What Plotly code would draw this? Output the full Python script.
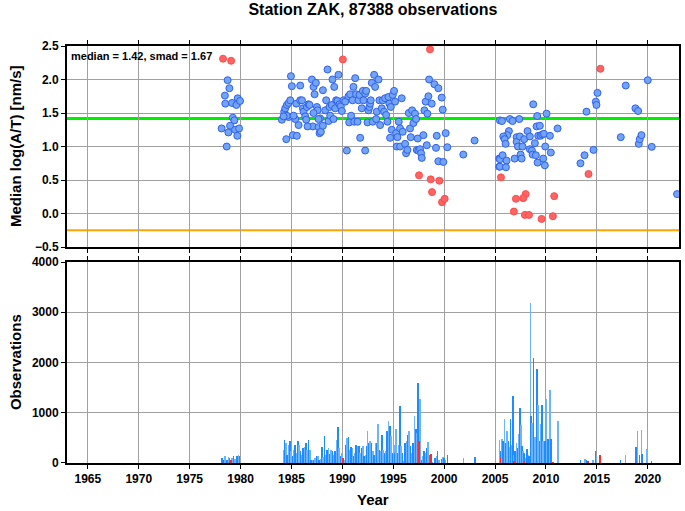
import plotly.graph_objects as go

# ---------------- data ----------------
title_text = "Station ZAK, 87388 observations"
median_val = 1.42
smad_val = 1.67
lower_line = -0.25

blue_years = [1978.73, 1978.90, 1978.46, 1978.50, 1979.16, 1979.59, 1979.72, 1979.95, 1979.24, 1979.39,
              1978.97, 1978.14, 1978.80, 1979.46, 1979.85, 1979.68, 1978.64,
              1984.06, 1984.29, 1984.39, 1984.55, 1984.72, 1984.88, 1984.95, 1985.04, 1984.49, 1985.14,
              1985.53, 1985.47, 1985.70, 1985.86, 1985.37, 1984.72, 1984.55, 1984.23, 1985.21, 1985.86,
              1986.03, 1986.12, 1986.19, 1986.35, 1986.45, 1986.52, 1986.68, 1986.78, 1987.01, 1987.17,
              1987.27, 1987.40, 1987.50, 1987.56, 1987.17, 1987.10, 1986.58, 1987.66, 1987.76, 1987.89,
              1988.09, 1988.09, 1987.82, 1987.66, 1988.31, 1988.41, 1988.54, 1988.64, 1988.74, 1988.80,
              1988.97, 1989.03, 1989.13, 1989.20, 1989.30, 1989.39, 1989.52, 1989.62, 1989.72, 1989.85,
              1989.95, 1990.11, 1990.28, 1990.44, 1990.60, 1990.67, 1990.77, 1990.86, 1991.00, 1991.09,
              1991.16, 1991.26, 1991.35, 1991.49, 1991.58, 1991.68, 1991.75, 1991.91, 1992.01, 1992.07,
              1992.24, 1992.24, 1992.34, 1992.47, 1992.56, 1992.66, 1992.73, 1992.79, 1992.89, 1992.99,
              1993.12, 1993.22, 1993.32, 1993.38, 1993.55, 1993.64, 1993.71, 1993.87, 1993.97, 1994.10,
              1994.20, 1994.30, 1994.43, 1994.53, 1994.62, 1994.69, 1994.76, 1994.85, 1994.95, 1995.08,
              1995.18, 1995.28, 1995.34, 1995.41, 1995.54, 1995.67, 1995.67, 1995.83, 1995.93, 1996.16,
              1996.26, 1996.39, 1996.52, 1996.65, 1996.72, 1996.85, 1996.98, 1997.14, 1997.24, 1997.31,
              1997.40, 1997.47, 1997.63, 1997.73, 1997.80, 1997.96, 1998.06, 1998.19, 1998.29, 1998.35,
              1998.45, 1998.52, 1998.78, 1999.04, 1999.20, 1999.27, 1999.43, 1999.43, 1999.76, 1999.86,
              1999.92, 2000.15, 2000.31, 2001.88, 2002.99, 2005.41, 2005.41, 2005.48,
              2005.68, 2006.46, 2006.72, 2007.38, 2006.36, 2006.20, 2005.81, 2005.94, 2006.04, 2005.48,
              2005.74, 2006.13, 2005.48, 2006.07, 2006.92, 2007.12, 2007.12, 2007.25, 2007.44, 2007.70,
              2007.87, 2008.19, 2008.42, 2008.42, 2008.62, 2008.69, 2008.91, 2009.01, 2007.51, 2007.61,
              2008.75, 2009.14, 2009.08, 2009.40, 2009.24, 2009.47, 2009.63, 2009.80, 2009.73, 2009.93,
              2009.89, 2009.18, 2010.39, 2010.48, 2010.06, 2011.14, 2013.39, 2013.79, 2014.67, 2013.98,
              2014.90, 2014.96, 2015.06, 2017.35, 2017.84, 2018.79, 2019.05, 2019.12, 2019.21, 2019.38,
              2020.00, 2020.39, 2022.88]
blue_vals = [1.99, 1.87, 1.76, 1.64, 1.65, 1.62, 1.72, 1.68, 1.43, 1.39,
             1.31, 1.27, 1.21, 1.25, 1.27, 1.16, 1.00,
             1.40, 1.52, 1.57, 1.62, 1.65, 1.69, 2.05, 1.90, 1.11, 1.17,
             1.16, 1.64, 1.32, 1.91, 1.41, 1.44, 1.46, 1.45, 1.46, 1.69,
             1.69, 1.57, 1.52, 1.45, 1.40, 1.59, 1.63, 1.62, 2.00, 1.89,
             1.78, 1.95, 1.59, 1.54, 1.50, 1.30, 1.30, 1.29, 1.20, 1.22,
             1.31, 1.84, 1.42, 1.41, 1.54, 1.69, 2.15, 1.38, 1.59, 1.46,
             1.62, 2.00, 1.41, 1.89, 1.57, 1.69, 1.68, 2.07, 1.63, 1.60,
             1.53, 1.69, 1.67, 0.94, 1.75, 1.36, 1.78, 1.46, 1.69, 1.89,
             1.37, 2.02, 1.78, 1.37, 1.69, 1.77, 1.13, 1.57, 1.83, 1.69,
             0.94, 1.79, 1.83, 1.36, 1.54, 1.59, 1.64, 1.69, 1.95, 1.37,
             2.07, 1.89, 1.41, 1.52, 2.00, 1.69, 1.32, 1.57, 1.69, 1.52,
             1.72, 1.47, 1.37, 1.74, 1.64, 1.13, 1.59, 1.25, 1.77, 1.83,
             1.67, 1.20, 1.00, 1.14, 1.37, 1.27, 1.00, 1.72, 1.22, 1.04,
             0.90, 0.95, 1.50, 1.27, 1.14, 1.54, 1.35, 1.49, 1.41, 0.95,
             1.12, 0.94, 0.96, 0.90, 0.83, 1.17, 1.54, 1.67, 1.02, 1.49,
             1.75, 2.00, 1.64, 1.93, 0.98, 1.16, 1.87, 0.78, 1.73, 1.55,
             0.77, 1.20, 0.99, 0.88, 1.09, 0.82, 0.70, 1.39,
             1.38, 1.41, 1.38, 1.41, 1.23, 1.17, 1.15, 1.11, 1.04, 0.81,
             0.87, 0.79, 0.70, 0.69, 0.82, 1.14, 1.07, 1.00, 1.15, 1.00,
             1.11, 1.23, 1.15, 0.96, 0.94, 0.88, 1.05, 0.87, 0.88, 0.82,
             1.63, 1.455, 1.30, 1.31, 1.16, 1.16, 1.18, 1.19, 0.82, 1.00,
             0.72, 0.76, 1.16, 0.91, 1.49, 1.27, 0.75, 0.87, 0.95, 1.52,
             1.67, 1.62, 1.80, 1.14, 1.91, 1.57, 1.53, 1.04, 1.11, 1.17,
             1.99, 0.995, 0.29]

red_years = [1978.28, 1979.07, 1990.05, 1998.61, 1997.53, 1998.68, 1999.53, 1998.81, 1999.79, 2000.05,
             2015.35, 2005.58, 2014.18, 2008.00, 2007.05, 2007.77, 2010.81, 2006.85, 2007.93, 2008.33,
             2009.57, 2010.68]
red_vals = [2.31, 2.28, 2.30, 2.45, 0.57, 0.51, 0.49, 0.32, 0.17, 0.22,
            2.16, 0.54, 0.59, 0.29, 0.22, 0.23, 0.26, 0.03, -0.02, -0.02,
            -0.08, -0.04]

obs_years = [1978.18, 1978.50, 1978.67, 1978.83, 1978.93, 1979.16, 1979.32, 1979.48, 1979.65, 1979.81, 1979.91,
             1984.23, 1984.33, 1984.46, 1984.59, 1984.72, 1984.85, 1984.98, 1985.11, 1985.24, 1985.37,
             1985.50, 1985.63, 1985.77, 1985.90, 1986.03, 1986.16, 1986.29, 1986.42, 1986.55, 1986.68,
             1986.81, 1986.94, 1987.07, 1987.20, 1987.33, 1987.46, 1987.60, 1987.73, 1987.86, 1987.99,
             1988.12, 1988.25, 1988.38, 1988.51, 1988.64, 1988.77, 1988.90, 1989.03, 1989.17, 1989.30,
             1989.43, 1989.56, 1989.69, 1989.82, 1989.95, 1990.08, 1990.21, 1990.34, 1990.47, 1990.60,
             1990.73, 1990.87, 1990.99, 1991.13, 1991.26, 1991.36, 1991.49, 1991.62, 1991.75, 1991.88,
             1992.01, 1992.14, 1992.27, 1992.40, 1992.47, 1992.60, 1992.73, 1992.86, 1992.99, 1993.12,
             1993.25, 1993.39, 1993.52, 1993.65, 1993.78, 1993.88, 1994.01, 1994.14, 1994.27, 1994.40,
             1994.53, 1994.66, 1994.79, 1994.92, 1995.05, 1995.18, 1995.28, 1995.41, 1995.54, 1995.64,
             1995.77, 1995.90, 1996.03, 1996.16, 1996.30, 1996.43, 1996.56, 1996.69, 1996.82, 1996.95,
             1997.08, 1997.21, 1997.34, 1997.44, 1997.64, 1997.77, 1997.90, 1998.03, 1998.16, 1998.29,
             1998.42, 1998.55, 1998.81, 1999.11, 1999.24, 1999.34, 1999.47, 1999.73, 1999.86, 1999.99,
             2000.12, 2000.32, 2001.89, 2003.03,
             2005.42, 2005.55, 2005.68, 2005.81, 2005.94, 2006.07, 2006.20, 2006.33, 2006.46, 2006.53,
             2006.66, 2006.76, 2006.85, 2006.98, 2007.12, 2007.25, 2007.34, 2007.44, 2007.57, 2007.67,
             2007.77, 2007.87, 2008.03, 2008.16, 2008.29, 2008.36, 2008.49, 2008.55, 2008.65, 2008.78,
             2008.91, 2009.11, 2009.24, 2009.40, 2009.50, 2009.63, 2009.73, 2009.89, 2010.06, 2010.22,
             2010.39, 2010.52, 2011.17,
             2013.40, 2013.82, 2013.99, 2014.64, 2014.87, 2014.97, 2017.32, 2017.81, 2018.82, 2018.99,
             2019.20, 2019.38, 2019.45, 2019.94, 2020.36]
obs_counts = [99, 132, 66, 119, 99, 99, 145, 79, 132, 165, 145,
              265, 463, 397, 165, 364, 430, 232, 132, 265, 364,
              198, 444, 364, 232, 165, 298, 318, 397, 265, 463,
              265, 66, 53, 66, 99, 146, 132, 66, 79, 318,
              112, 543, 165, 265, 298, 179, 265, 232, 165, 232,
              463, 709, 298, 132, 198, 99, 66, 364, 500, 510,
              265, 318, 298, 132, 198, 363, 343, 330, 199, 297,
              330, 133, 166, 330, 628, 396, 429, 396, 232, 166,
              396, 396, 781, 265, 232, 563, 265, 199, 232, 628,
              827, 728, 530, 199, 363, 199, 675, 199, 363, 1139,
              330, 199, 33, 396, 429, 563, 628, 330, 199, 396,
              927, 681, 596, 1589, 1272, 66, 133, 232, 199, 297,
              410, 166, 13, 99, 133, 232, 66, 80, 119, 99,
              66, 166, 106, 119,
              463, 245, 483, 430, 881, 397, 630, 430, 311, 881,
              364, 1325, 166, 232, 397, 298, 576, 1093, 748, 331,
              232, 199, 99, 285, 166, 133, 3180, 927, 795, 2087,
              520, 1875, 1159, 430, 780, 1159, 435, 430, 1272, 477,
              1458, 480, 841,
              66, 86, 53, 53, 231, 133, 53, 166, 317, 642,
              166, 662, 170, 280, 33]

red_obs_years = [1978.34, 1979.06, 1990.08, 1997.50, 1998.68, 2005.55, 2006.85, 2007.90, 2010.70, 2014.15, 2015.29]
red_obs_counts = [53, 53, 99, 430, 170, 110, 40, 30, 20, 33, 166]

x_ticks = [1965, 1970, 1975, 1980, 1985, 1990, 1995, 2000, 2005, 2010, 2015, 2020]
top_y_ticks = [-0.5, 0.0, 0.5, 1.0, 1.5, 2.0, 2.5]
bottom_y_ticks = [0, 1000, 2000, 3000, 4000]

# ---------------- figure ----------------
FONT = "Liberation Sans, Arial, sans-serif"
W, H = 685, 511
ML, MR, MT, MB = 66.5, 5.7, 45.6, 47.7
fig = go.Figure()

dark_blue = "#1e8cff"
light_blue = "#6cb4ff"
bar_colors = [dark_blue if i % 2 == 0 else light_blue for i in range(len(obs_years))]

fig.add_trace(go.Bar(x=obs_years, y=obs_counts, width=0.16, marker=dict(color=bar_colors, line=dict(width=0)),
                     xaxis="x2", yaxis="y2", showlegend=False))
fig.add_trace(go.Bar(x=red_obs_years, y=red_obs_counts, width=0.16, marker=dict(color="#ff2a2a", line=dict(width=0)),
                     xaxis="x2", yaxis="y2", showlegend=False))

fig.add_trace(go.Scatter(x=blue_years, y=blue_vals, mode="markers",
                         marker=dict(size=7, color="#72a4f6", line=dict(color="#2f5ff0", width=1)),
                         xaxis="x", yaxis="y", showlegend=False))
fig.add_trace(go.Scatter(x=red_years, y=red_vals, mode="markers",
                         marker=dict(size=7, color="#ff6464", line=dict(color="#ff4a4a", width=1)),
                         xaxis="x", yaxis="y", showlegend=False))

x_range = [1962.95, 2023.07]
axis_common = dict(showline=True, linecolor="black", linewidth=2, ticks="outside", ticklen=4,
                   tickcolor="black", tickwidth=1, showgrid=True, gridcolor="#a0a0a0", gridwidth=1,
                   zeroline=False, automargin=False,
                   tickfont=dict(family=FONT, size=12, color="black", weight="bold"))

plot_h = H - MT - MB
top_lo = (H - MB - 247) / plot_h
bot_hi = (H - MB - 262) / plot_h

fig.update_layout(
    width=W, height=H,
    margin=dict(l=ML, r=MR, t=MT, b=MB),
    plot_bgcolor="white", paper_bgcolor="white",
    barmode="overlay", bargap=0,
    title=dict(text=title_text, x=(ML + W - MR) / 2 / W, xanchor="center", y=1 - 9.5 / H, yanchor="middle",
               font=dict(family=FONT, size=16, color="black", weight="bold")),
    xaxis=dict(domain=[0, 1], range=x_range, tickvals=x_ticks, showticklabels=False, anchor="y",
               mirror="ticks", **axis_common),
    yaxis=dict(domain=[top_lo, 1], range=[-0.5, 2.5], tickvals=top_y_ticks, tickformat=".1f", anchor="x",
               mirror=True, **axis_common),
    xaxis2=dict(domain=[0, 1], range=x_range, tickvals=x_ticks, anchor="y2", mirror="ticks", **axis_common),
    yaxis2=dict(domain=[0, bot_hi], range=[0, 4000], tickvals=bottom_y_ticks, anchor="x2", mirror=True,
                **axis_common),
)

title_font = dict(family=FONT, size=15, color="black", weight="bold")
fig.add_annotation(text="Median log(A/T) [nm/s]", xref="paper", yref="paper",
                   x=-(ML - 15) / (W - ML - MR), y=(H - MB - (45.6 + 247) / 2) / plot_h,
                   textangle=-90, showarrow=False, xanchor="center", yanchor="middle", font=title_font)
fig.add_annotation(text="Observations", xref="paper", yref="paper",
                   x=-(ML - 15) / (W - ML - MR), y=(H - MB - (262 + 463.3) / 2) / plot_h,
                   textangle=-90, showarrow=False, xanchor="center", yanchor="middle", font=title_font)
fig.add_annotation(text="Year", xref="paper", yref="paper",
                   x=0.5, y=-(500 - (H - MB)) / plot_h,
                   showarrow=False, xanchor="center", yanchor="middle", font=title_font)

fig.add_shape(type="line", xref="x domain", yref="y", x0=0, x1=1, y0=median_val, y1=median_val,
              line=dict(color="#00ee00", width=3), layer="below")
fig.add_shape(type="line", xref="x domain", yref="y", x0=0, x1=1, y0=lower_line, y1=lower_line,
              line=dict(color="#ffa500", width=2), layer="below")

fig.add_annotation(text=f"median = {median_val:.2f}, smad = {smad_val:.2f}", xref="x domain", yref="y domain",
                   x=0.004, y=0.99, xanchor="left", yanchor="top", showarrow=False,
                   font=dict(family=FONT, size=11, color="black", weight="bold"))

# remove the default page margin so the figure sits at the window's top-left corner
fig.write_html("out.html", config={"displayModeBar": False, "staticPlot": True},
               post_script="document.body.style.margin='0px';")
